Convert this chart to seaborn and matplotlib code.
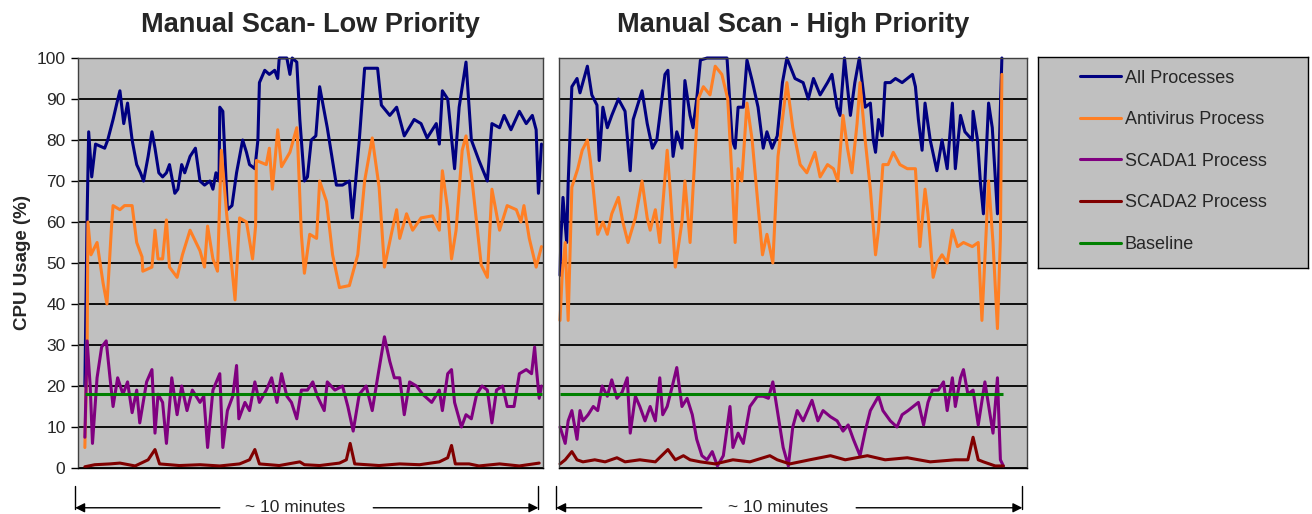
import pandas as pd
import numpy as np
import matplotlib.pyplot as plt
import seaborn as sns
from matplotlib.lines import Line2D

# Elapsed time (s) and CPU usage (%)
# --- Manual Scan - Low Priority ---
t_low_all = [0, 3, 5, 9, 14, 26, 30, 37, 42, 46, 51, 56, 62, 68, 73, 77, 83, 88, 92, 97,
             102, 107, 111, 118, 122, 127, 131, 138, 145, 151, 157, 164, 168, 172, 176, 177, 181, 187, 193, 199,
             207, 212, 216, 223, 227, 229, 236, 242, 249, 253, 255, 265, 269, 272, 278, 282, 288, 292, 297, 303,
             308, 314, 318, 330, 338, 347, 351, 360, 367, 384, 389, 400, 409, 419, 432, 441, 449, 461, 465, 469,
             476, 485, 491, 500, 507, 517, 528, 534, 544, 550, 559, 570, 579, 587, 592, 595, 599]
cpu_low_all = [20, 62, 82, 71, 79, 78, 80, 85, 89, 92, 84, 89, 80, 74, 72, 70, 76, 82, 78, 72,
               71, 72, 74, 67, 68, 74, 72, 76, 78, 70, 69, 70, 68, 72, 70, 88, 87, 63, 64, 72,
               80, 77, 74, 73, 80, 94, 97, 96, 97, 95, 100, 100, 96, 100, 99, 85, 70, 71, 80, 81,
               93, 87, 83, 69, 69, 70, 61, 80, 97.5, 97.5, 88.5, 86, 88, 81, 85, 84, 80.5, 84, 79, 92,
               90, 73, 88, 99, 80, 75, 70, 84, 83, 86, 82.5, 87, 84, 86, 82.5, 67, 79]

t_low_av = [0, 3, 4, 8, 16, 24, 29, 35, 37, 46, 52, 62, 68, 75, 76, 88, 92, 96, 102, 107,
            111, 121, 128, 138, 151, 157, 161, 168, 174, 179, 186, 197, 203, 212, 220, 224, 225, 238, 242, 246,
            253, 258, 269, 278, 279, 284, 288, 295, 304, 308, 317, 325, 334, 347, 358, 367, 377, 386, 393, 402,
            409, 413, 422, 430, 441, 456, 465, 469, 476, 481, 487, 495, 500, 508, 520, 528, 534, 544, 554, 566,
            572, 576, 583, 592, 599]
cpu_low_av = [5, 30, 60, 52, 55, 45, 40, 59, 64, 63, 64, 64, 55, 51.5, 48, 49, 58, 51, 51, 60.5,
              49, 46.5, 52, 58, 53, 49, 59, 51, 48, 77.5, 62, 41, 61, 60, 51, 59, 75, 74, 78, 68,
              82.5, 73.5, 77, 83, 80, 57, 47.5, 57, 56, 70, 65, 52, 44, 44.5, 52, 70, 80.5, 68.5, 49, 57,
              63, 56, 62, 58, 61, 61.5, 58, 72.5, 63, 51, 58, 77.5, 81, 70, 49.5, 46.5, 68, 58, 64, 63,
              60, 64, 56, 49, 54]

t_low_s1 = [0, 3, 7, 10, 16, 22, 28, 33, 37, 43, 50, 56, 62, 68, 72, 81, 88, 92, 96, 102,
            107, 114, 121, 127, 134, 141, 151, 156, 161, 168, 177, 181, 187, 194, 199, 202, 210, 216, 223, 229,
            238, 245, 252, 258, 265, 271, 278, 284, 292, 299, 305, 314, 318, 328, 338, 345, 352, 360, 369, 377,
            384, 393, 400, 406, 413, 419, 426, 435, 443, 455, 465, 469, 476, 481, 485, 494, 500, 507, 514, 521,
            528, 534, 540, 548, 554, 563, 570, 579, 586, 590, 592, 596, 599]
cpu_low_s1 = [7.5, 31, 20, 6, 22, 29.5, 31, 22, 15, 22, 18, 21, 13.5, 19, 11, 21, 24, 8.5, 18, 16,
              6, 22, 13, 20, 14, 19, 16, 17.5, 5, 19, 23, 5, 14, 17.5, 25, 12, 16, 14, 21, 16,
              19, 22, 16, 23, 17.5, 16, 12, 19, 19, 21, 17.5, 14, 21, 19, 20, 15, 9, 18, 20, 14,
              22, 32, 26, 22, 22, 13, 21, 20, 18, 16, 19, 14, 23, 24, 16, 10, 13, 12, 18, 20,
              19, 11, 19, 20, 15, 15, 23, 24, 23, 29.5, 25, 17, 20]

t_low_s2 = [0, 13, 33, 46, 66, 83, 92, 98, 124, 151, 177, 203, 216, 223, 229, 255, 282, 288,
            308, 334, 343, 348, 354, 386, 413, 439, 465, 476, 481, 486, 504, 517, 544, 570, 596]
cpu_low_s2 = [0.3, 0.8, 1, 1.2, 0.5, 2, 4.5, 1, 0.6, 0.8, 0.5, 1, 2, 4.5, 1, 0.6, 1.5, 0.8,
              0.6, 1.2, 2, 6, 1, 0.6, 1, 0.8, 1.5, 2.5, 5.5, 1, 1, 0.5, 1, 0.5, 1.2]

# --- Manual Scan - High Priority ---
t_high_all = [0, 1, 4, 9, 11, 16, 23, 27, 37, 43, 50, 53, 58, 64, 70, 79, 88, 95, 99, 111,
              118, 125, 131, 142, 146, 153, 158, 165, 169, 176, 180, 185, 190, 199, 226, 233, 237, 241, 248, 253,
              260, 268, 275, 280, 287, 294, 301, 307, 318, 329, 336, 343, 352, 362, 368, 375, 379, 385, 393, 399,
              405, 413, 420, 424, 427, 431, 436, 440, 447, 454, 463, 470, 477, 481, 485, 490, 494, 501, 510, 517,
              524, 531, 535, 542, 548, 558, 559, 565, 569, 573, 580, 585, 592, 596, 598]
cpu_high_all = [47, 55.6, 66, 55, 69.5, 93, 95, 91.5, 98, 91, 88.5, 75, 88, 83, 86, 90, 87, 72.5, 85, 92,
                84, 78, 80, 96, 97, 76, 82, 78, 94.5, 86, 83, 90, 99.5, 100, 100, 80, 78, 88, 88, 99.5,
                94.5, 88, 78, 82, 78, 81, 94, 100, 95, 94, 90, 95, 91, 94, 96, 88, 86, 100, 86, 94,
                100, 88, 89, 80, 77, 85, 81, 94, 94, 95, 94, 95, 96, 93, 85, 77.5, 89, 80, 72.5, 80,
                73, 89, 73, 86, 82, 80, 87, 80, 69.5, 62, 89, 83, 62, 88, 100]

t_high_av = [0, 3, 7, 11, 16, 24, 30, 37, 41, 45, 51, 58, 64, 70, 79, 85, 92, 102, 111, 118,
             122, 129, 135, 145, 149, 156, 165, 169, 176, 180, 187, 194, 203, 210, 219, 227, 233, 237, 241, 246,
             253, 260, 268, 274, 280, 288, 295, 307, 315, 325, 334, 345, 352, 362, 370, 376, 383, 389, 395, 402,
             406, 413, 420, 427, 431, 437, 444, 451, 460, 470, 481, 487, 494, 498, 505, 510, 517, 524, 531, 538,
             546, 558, 566, 571, 580, 586, 592, 596, 598]
cpu_high_av = [36, 47.5, 55, 36, 68.5, 73, 77.5, 80, 75, 68, 57, 60, 57, 62, 66, 60, 55, 61, 70, 61,
               58, 63, 55, 77.5, 68, 49, 60, 70, 55, 68, 90, 93, 91, 98, 96, 90, 70, 55, 73, 70,
               89, 80, 64, 52, 57, 50, 76, 94, 83, 74, 72, 77, 71, 74, 73, 70, 86, 78, 72, 84,
               94, 80, 68, 52, 58, 74, 74, 77, 74, 73, 73, 54, 68, 62, 46.5, 50, 52, 50, 58, 54,
               55, 54, 55, 36, 70, 55, 34, 56, 96]

t_high_s1 = [0, 7, 11, 16, 23, 27, 31, 38, 45, 51, 57, 64, 70, 77, 84, 91, 95, 102, 108, 115,
             122, 129, 135, 139, 145, 152, 158, 165, 172, 179, 185, 192, 199, 206, 213, 221, 230, 234, 241, 248,
             257, 267, 275, 282, 288, 295, 302, 309, 315, 321, 329, 341, 349, 356, 366, 375, 383, 390, 397, 406,
             413, 420, 431, 437, 447, 456, 463, 471, 478, 485, 492, 498, 504, 512, 519, 524, 531, 535, 542, 546,
             552, 559, 566, 575, 582, 586, 592, 596, 600]
cpu_high_s1 = [10, 6, 11.5, 14, 7, 14, 11.5, 13, 15, 14, 20, 17.5, 21.5, 17, 18.5, 22, 8.5, 17.5, 15, 11.5,
               15, 11.5, 22, 13, 15, 20, 24.5, 15, 17, 13, 7, 3, 2, 4, 0.5, 3, 15, 5, 8.5, 6,
               15, 17.5, 17.5, 17, 21, 13, 5, 0.5, 10, 14, 11.5, 16.5, 11.5, 14, 12.5, 11.5, 9, 10.5, 7, 3,
               9, 14, 17.5, 14, 11.5, 10, 13, 14, 15, 16, 10.5, 16, 19, 19, 21, 14, 22, 15, 22, 24,
               18, 19, 10.5, 21, 13, 8.5, 22, 2, 0.5]

t_high_s2 = [0, 7, 16, 23, 31, 47, 61, 77, 88, 108, 129, 146, 156, 167, 176, 190, 210, 234,
             257, 284, 294, 311, 338, 366, 386, 416, 440, 470, 501, 535, 552, 559, 566, 573, 589, 600]
cpu_high_s2 = [1, 2, 4, 2, 1.5, 2, 1.5, 2.5, 1.5, 2, 1.5, 4.5, 2, 3, 2, 1.5, 1, 2,
               1.5, 3, 2, 1, 2, 3, 2, 3, 2, 2.5, 1.5, 2, 2, 7.5, 2, 1.5, 0.5, 0.5]

baseline = 18
baseline_span = (0, 600)

processes = ["All Processes", "Antivirus Process", "SCADA1 Process", "SCADA2 Process"]
colors = {"All Processes": "#000080", "Antivirus Process": "#ff7f24",
          "SCADA1 Process": "#800080", "SCADA2 Process": "#800000"}
baseline_color = "#008000"
titles = ["Manual Scan- Low Priority", "Manual Scan - High Priority"]


def panel_frame(series):
    frames = [pd.DataFrame({"time": t, "cpu": v, "process": name}) for name, t, v in series]
    return pd.concat(frames, ignore_index=True)


low = panel_frame(zip(processes, [t_low_all, t_low_av, t_low_s1, t_low_s2],
                      [cpu_low_all, cpu_low_av, cpu_low_s1, cpu_low_s2]))
high = panel_frame(zip(processes, [t_high_all, t_high_av, t_high_s1, t_high_s2],
                       [cpu_high_all, cpu_high_av, cpu_high_s1, cpu_high_s2]))

sns.set_style("white")
plt.rcParams["font.family"] = ["Liberation Sans", "DejaVu Sans"]

W, H = 1312, 514
fig = plt.figure(figsize=(W / 100, H / 100), dpi=100)
ax1 = fig.add_axes([78 / W, 1 - 468 / H, 465 / W, 410 / H])
ax2 = fig.add_axes([559 / W, 1 - 468 / H, 468 / W, 410 / H])

for ax, df, title, xlim in [(ax1, low, titles[0], (-9, 601)), (ax2, high, titles[1], (-1.4, 632))]:
    ax.set_facecolor("#c0c0c0")
    ax.yaxis.grid(True, color="black", linewidth=1.3)
    ax.set_axisbelow(True)
    sns.lineplot(data=df, x="time", y="cpu", hue="process", hue_order=processes,
                 palette=colors, estimator=None, sort=False, linewidth=2.2,
                 legend=False, ax=ax)
    ax.hlines(baseline, *baseline_span, color=baseline_color, linewidth=2.2)
    for ln in ax.lines:
        ln.set_clip_on(False)
    ax.set_xlim(*xlim)
    ax.set_ylim(0, 100)
    ax.set_yticks(range(0, 101, 10))
    ax.set_xticks([])
    ax.set_xlabel("")
    ax.set_ylabel("")
    ax.set_title(title, fontsize=19.5, fontweight="bold", pad=19)
    for s in ax.spines.values():
        s.set_color("#404040")
        s.set_linewidth(1)
    ax.spines["bottom"].set_color("black")

    # "~ 10 minutes" span arrow below the panel
    ax.annotate("", xy=(-0.006, -0.097), xytext=(0.305, -0.097), xycoords="axes fraction",
                arrowprops=dict(arrowstyle="-|>", color="black", lw=1, mutation_scale=14,
                                shrinkA=0, shrinkB=0), annotation_clip=False)
    ax.annotate("", xy=(0.99, -0.097), xytext=(0.635, -0.097), xycoords="axes fraction",
                arrowprops=dict(arrowstyle="-|>", color="black", lw=1, mutation_scale=14,
                                shrinkA=0, shrinkB=0), annotation_clip=False)
    for xf in (-0.006, 0.99):
        ax.plot([xf, xf], [-0.043, -0.1], transform=ax.transAxes, color="black",
                lw=1, clip_on=False)
    ax.text(0.468, -0.097, "~ 10 minutes", transform=ax.transAxes, ha="center",
            va="center", fontsize=12.5)

ax1.tick_params(axis="y", labelsize=12.5, length=5, width=1, color="black", pad=4, left=True)
ax1.set_ylabel("CPU Usage (%)", fontsize=13.5, fontweight="bold", labelpad=4)
ax2.tick_params(axis="y", left=False, labelleft=False)

# legend panel
axl = fig.add_axes([1038 / W, 1 - 268 / H, 270 / W, 211 / H])
axl.set_facecolor("#c0c0c0")
axl.set_xticks([])
axl.set_yticks([])
for s in axl.spines.values():
    s.set_color("black")
    s.set_linewidth(1)
handles = [Line2D([], [], color=colors[p], lw=2.2) for p in processes]
handles.append(Line2D([], [], color=baseline_color, lw=2.2))
axl.legend(handles, processes + ["Baseline"], loc="upper left", bbox_to_anchor=(0.155, 0.94),
           frameon=False, fontsize=13, handlelength=2.3, handletextpad=0.2,
           labelspacing=1.36, borderpad=0, borderaxespad=0)

fig.savefig("out.png", dpi=100)
